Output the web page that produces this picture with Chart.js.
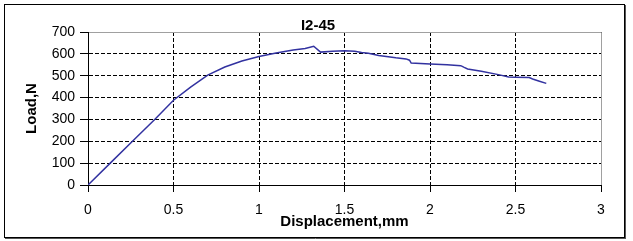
<!DOCTYPE html>
<html>
<head>
<meta charset="utf-8">
<script src="https://cdn.jsdelivr.net/npm/chart.js@4"></script>
<style>
  body { margin: 0; background: #fff; }
  canvas { display: block; }
</style>
</head>
<body>
<canvas id="chart" width="633" height="241"></canvas>
<script>
// Данные кривой нагрузка-перемещение
const displacement = [0, 0.13, 0.26, 0.39, 0.5, 0.6, 0.7, 0.8, 0.9, 1.0, 1.1, 1.2, 1.27, 1.32, 1.36, 1.43, 1.5, 1.56, 1.6, 1.64, 1.7, 1.8, 1.86, 1.88, 1.89, 2.0, 2.1, 2.18, 2.2, 2.22, 2.3, 2.4, 2.46, 2.5, 2.58, 2.6, 2.64, 2.68];
const load = [0, 100, 200, 300, 388, 448, 503, 540, 567, 588, 604, 618, 625, 635, 608, 612, 614, 612, 606, 603, 593, 582, 577, 571, 558, 554, 550, 546, 538, 531, 520, 505, 494, 493, 492, 485, 475, 465];

// Подписи осей
const xTicks = [0, 0.5, 1, 1.5, 2, 2.5, 3];
const yTicks = [0, 100, 200, 300, 400, 500, 600, 700];
const chartTitle = "I2-45";
const xTitle = "Displacement,mm";
const yTitle = "Load,N";

const points = displacement.map((d, i) => ({ x: d, y: load[i] }));

Chart.defaults.font.family = "'Liberation Sans', Arial, sans-serif";
Chart.defaults.color = "#000";

// Серая рамка области построения, заголовок и внешняя рамка
const framePlugin = {
  id: "frame",
  beforeDatasetsDraw(chart) {
    const { ctx, chartArea } = chart;
    const top = Math.round(chartArea.top) + 0.5;
    const right = Math.round(chartArea.right) + 0.5;
    ctx.save();
    ctx.strokeStyle = "#a0a0a0";
    ctx.lineWidth = 1;
    ctx.beginPath();
    ctx.moveTo(chartArea.left + 1, top);
    ctx.lineTo(right, top);
    ctx.lineTo(right, chartArea.bottom);
    ctx.stroke();
    ctx.restore();
  },
  afterDraw(chart) {
    const { ctx } = chart;
    ctx.save();
    // заголовок по центру всей диаграммы
    ctx.font = "bold 15px 'Liberation Sans', Arial, sans-serif";
    ctx.fillStyle = "#000";
    ctx.textAlign = "center";
    ctx.textBaseline = "alphabetic";
    ctx.fillText(chartTitle, 318, 30);
    // внешняя рамка
    ctx.strokeStyle = "#000";
    ctx.lineWidth = 1;
    ctx.strokeRect(4.5, 4.5, 620, 233);
    ctx.strokeStyle = "#555";
    ctx.beginPath();
    ctx.moveTo(625.5, 5);
    ctx.lineTo(625.5, 239);
    ctx.moveTo(5, 238.5);
    ctx.lineTo(626, 238.5);
    ctx.stroke();
    ctx.restore();
  },
};

const ctx = document.getElementById("chart").getContext("2d");
const chart = new Chart(ctx, {
  type: "scatter",
  data: {
    datasets: [
      {
        data: points,
        showLine: true,
        borderColor: "rgb(50, 50, 160)",
        borderWidth: 1.5,
        pointRadius: 0,
        tension: 0,
      },
    ],
  },
  options: {
    responsive: false,
    animation: false,
    layout: { padding: { top: 32, left: 0, right: 32, bottom: 0 } },
    plugins: {
      legend: { display: false },
      tooltip: { enabled: false },
    },
    scales: {
      x: {
        type: "linear",
        min: 0,
        max: 3,
        afterBuildTicks: (scale) => {
          scale.ticks = xTicks.map((v) => ({ value: v }));
        },
        afterFit: (scale) => {
          scale.height = 56;
        },
        ticks: {
          font: { size: 14 },
          padding: 10,
          maxRotation: 0,
          callback: (v) => String(v),
        },
        grid: {
          color: "#000",
          lineWidth: 1,
          tickLength: 7,
          tickColor: "#000",
        },
        border: { display: true, color: "#000", width: 1, dash: [4, 2] },
        title: {
          display: true,
          text: xTitle,
          font: { size: 15, weight: "bold" },
          padding: { top: 0, bottom: 10 },
        },
      },
      y: {
        min: 0,
        max: 700,
        afterBuildTicks: (scale) => {
          scale.ticks = yTicks.map((v) => ({ value: v }));
        },
        afterFit: (scale) => {
          scale.width = 88;
        },
        ticks: {
          font: { size: 14 },
          padding: 5,
          callback: (v) => String(v),
        },
        grid: {
          color: "#000",
          lineWidth: 1,
          tickLength: 8,
          tickColor: "#000",
        },
        border: { display: true, color: "#000", width: 1, dash: [4, 2] },
        title: {
          display: true,
          text: yTitle,
          font: { size: 15, weight: "bold" },
          padding: { top: 23, bottom: 0 },
        },
      },
    },
  },
  plugins: [framePlugin],
});
</script>
</body>
</html>
